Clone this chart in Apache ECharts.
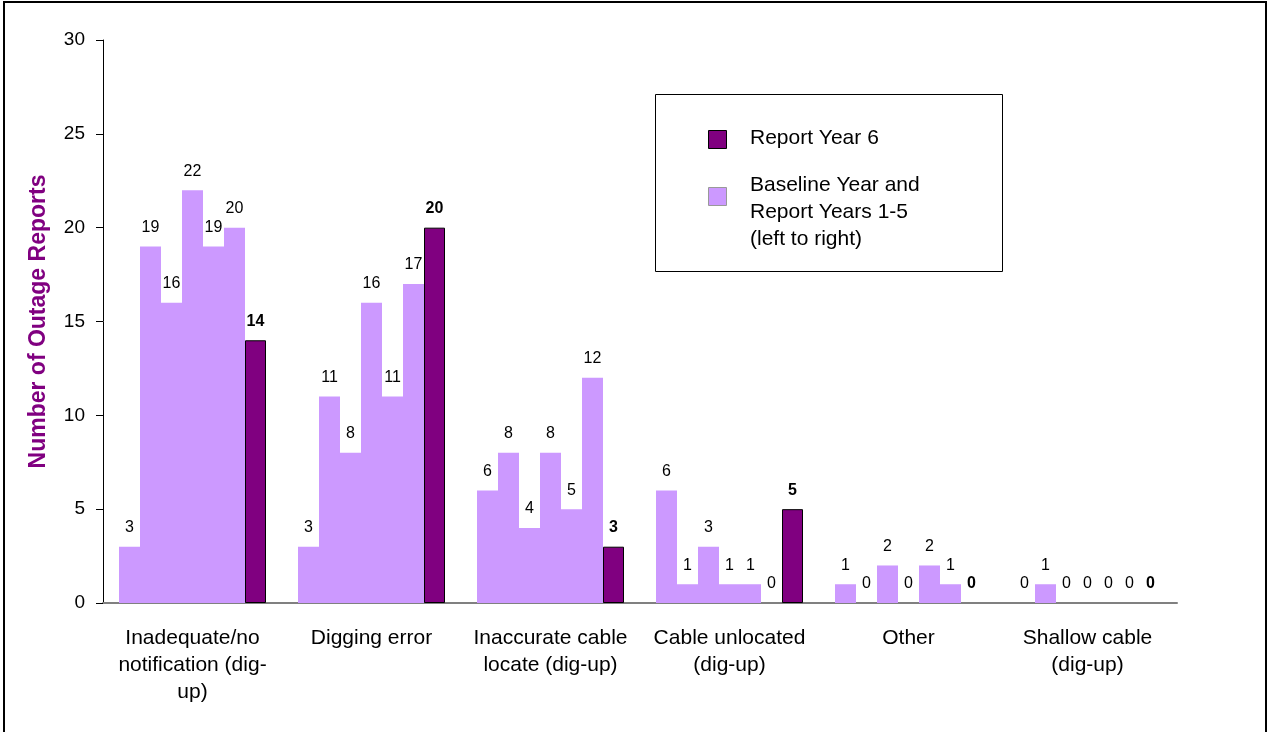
<!DOCTYPE html>
<html>
<head>
<meta charset="utf-8">
<script src="https://cdn.jsdelivr.net/npm/echarts@6/dist/echarts.min.js"></script>
<style>
  html, body { margin: 0; padding: 0; background: #ffffff; }
  #chart { width: 1268px; height: 732px; }
</style>
</head>
<body>
<div id="chart"></div>
<script>
// Outage causes, counted per reporting year
const categories = [
  'Inadequate/no\nnotification (dig-\nup)',
  'Digging error',
  'Inaccurate cable\nlocate (dig-up)',
  'Cable unlocated\n(dig-up)',
  'Other',
  'Shallow cable\n(dig-up)'
];
const baselineYear = [3, 3, 6, 6, 1, 0];
const reportYear1 = [19, 11, 8, 1, 0, 1];
const reportYear2 = [16, 8, 4, 3, 2, 0];
const reportYear3 = [22, 16, 8, 1, 0, 0];
const reportYear4 = [19, 11, 5, 1, 2, 0];
const reportYear5 = [20, 17, 12, 0, 1, 0];
const reportYear6 = [14, 20, 3, 5, 0, 0];
const yTicks = { min: 0, max: 30, interval: 5 };

const FONT = "'Liberation Sans', Arial, sans-serif";
const LIGHT = '#CC99FF';
const DARK = '#800080';

const earlierYears = [
  ['Baseline Year', baselineYear],
  ['Report Year 1', reportYear1],
  ['Report Year 2', reportYear2],
  ['Report Year 3', reportYear3],
  ['Report Year 4', reportYear4],
  ['Report Year 5', reportYear5]
];

const labelBase = {
  show: true,
  position: 'top',
  distance: 11,
  fontFamily: FONT,
  fontSize: 16,
  color: '#000'
};

// bars sit edge to edge inside each category
const BAR_WIDTH = 21;

const series = earlierYears.map(([name, values]) => ({
  name,
  type: 'bar',
  data: values,
  barGap: '0%',
  barWidth: BAR_WIDTH,
  itemStyle: { color: LIGHT },
  label: labelBase
}));
series.push({
  name: 'Report Year 6',
  type: 'bar',
  // zero-height bars get no outline so nothing shows along the baseline
  data: reportYear6.map(v => ({ value: v, itemStyle: { borderWidth: v === 0 ? 0 : 1 } })),
  barGap: '0%',
  barWidth: BAR_WIDTH,
  z: 3,
  itemStyle: { color: DARK, borderColor: '#000' },
  label: Object.assign({}, labelBase, { fontWeight: 'bold' })
});

const chart = echarts.init(document.getElementById('chart'), null, { renderer: 'canvas' });
chart.setOption({
  backgroundColor: '#ffffff',
  animation: false,
  grid: { left: 103, right: 91, top: 40, bottom: 129, containLabel: false },
  xAxis: {
    type: 'category',
    data: categories,
    axisLine: { lineStyle: { color: '#808080', width: 2 } },
    axisTick: { show: false },
    axisLabel: {
      interval: 0,
      margin: 22,
      fontFamily: FONT,
      fontSize: 21,
      lineHeight: 27,
      color: '#000',
      align: 'center'
    }
  },
  yAxis: {
    type: 'value',
    min: yTicks.min,
    max: yTicks.max,
    interval: yTicks.interval,
    splitLine: { show: false },
    axisLine: { show: true, lineStyle: { color: '#000', width: 1 } },
    axisTick: { show: true, inside: false, length: 7, lineStyle: { color: '#000' } },
    axisLabel: { margin: 18, fontFamily: FONT, fontSize: 19, color: '#000' },
    name: 'Number of Outage Reports',
    nameLocation: 'middle',
    nameRotate: 90,
    nameGap: 53,
    nameTextStyle: { fontFamily: FONT, fontSize: 23, fontWeight: 'bold', color: DARK }
  },
  series,
  graphic: [
    {
      type: 'rect',
      shape: { x: 4, y: 2, width: 1262, height: 780 },
      style: { fill: 'none', stroke: '#000', lineWidth: 2 },
      silent: true
    },
    {
      type: 'group',
      left: 655,
      top: 94,
      children: [
        {
          type: 'rect',
          shape: { x: 0.5, y: 0.5, width: 347, height: 177 },
          style: { fill: '#fff', stroke: '#000', lineWidth: 1 }
        },
        {
          type: 'rect',
          shape: { x: 53.5, y: 36.5, width: 18, height: 18 },
          style: { fill: DARK, stroke: '#000', lineWidth: 1 }
        },
        {
          type: 'text',
          x: 95, y: 44,
          style: { text: 'Report Year 6', font: '21px ' + FONT, fill: '#000', verticalAlign: 'middle' }
        },
        {
          type: 'rect',
          shape: { x: 53.5, y: 93.5, width: 18, height: 18 },
          style: { fill: LIGHT, stroke: '#999', lineWidth: 1 }
        },
        {
          type: 'text',
          x: 95, y: 78,
          style: {
            text: 'Baseline Year and\nReport Years 1-5\n(left to right)',
            font: '21px ' + FONT,
            lineHeight: 27,
            fill: '#000',
            verticalAlign: 'top'
          }
        }
      ]
    }
  ]
});
</script>
</body>
</html>
